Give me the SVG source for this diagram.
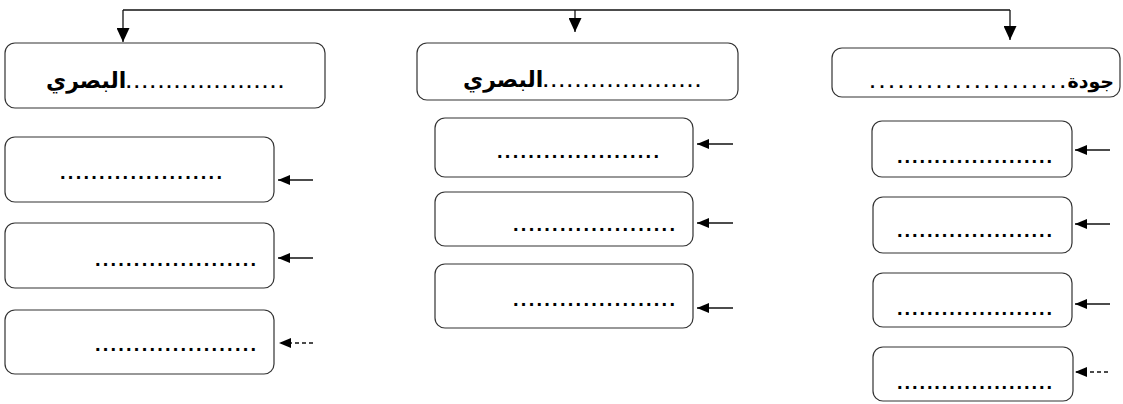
<svg xmlns="http://www.w3.org/2000/svg" width="1123" height="404" viewBox="0 0 1123 404">
<style>
.box{fill:none;stroke:#333;stroke-width:1.2}
.conn{fill:none;stroke:#111;stroke-width:1.3}
.dash{stroke-dasharray:4 3}
.dots{font-family:"Liberation Sans",Arial,sans-serif;font-weight:bold;font-size:20px;fill:#000}
.hd{font-family:"DejaVu Sans","Noto Sans",sans-serif;font-weight:bold;font-size:22px;fill:#000}
.hd2{font-family:"DejaVu Sans","Noto Sans",sans-serif;font-weight:bold;font-size:19px;fill:#000}
.hdots{font-family:"Liberation Sans",Arial,sans-serif;font-weight:bold;font-size:18px}
</style>
<defs>
<marker id="ah" viewBox="0 0 12 10" refX="12" refY="5" markerWidth="12" markerHeight="10" markerUnits="userSpaceOnUse" orient="auto">
<path d="M0,0 L12,5 L0,10 z" fill="#000"/>
</marker>
<marker id="ahd" viewBox="0 0 14 13" refX="14" refY="6.5" markerWidth="14" markerHeight="13" markerUnits="userSpaceOnUse" orient="auto">
<path d="M0,0 L14,6.5 L0,13 z" fill="#000"/>
</marker>
</defs>

<g id="connectors">
<polyline class="conn" points="123,10 1010,10"/>
<line class="conn" x1="123" y1="10" x2="123" y2="42" marker-end="url(#ahd)"/>
<line class="conn" x1="1010" y1="10" x2="1010" y2="40" marker-end="url(#ahd)"/>
<line class="conn" x1="575" y1="10" x2="575" y2="32" marker-end="url(#ahd)"/>
<line class="conn" x1="313" y1="180" x2="278" y2="180" marker-end="url(#ah)"/>
<line class="conn" x1="313" y1="258" x2="278" y2="258" marker-end="url(#ah)"/>
<line class="conn dash" x1="313" y1="343" x2="279" y2="343" marker-end="url(#ah)"/>
<line class="conn" x1="733" y1="144" x2="697" y2="144" marker-end="url(#ah)"/>
<line class="conn" x1="733" y1="223" x2="697" y2="223" marker-end="url(#ah)"/>
<line class="conn" x1="733" y1="308" x2="697" y2="308" marker-end="url(#ah)"/>
<line class="conn" x1="1110" y1="150" x2="1075" y2="150" marker-end="url(#ah)"/>
<line class="conn" x1="1110" y1="224" x2="1075" y2="224" marker-end="url(#ah)"/>
<line class="conn" x1="1110" y1="304" x2="1075" y2="304" marker-end="url(#ah)"/>
<line class="conn dash" x1="1108" y1="372" x2="1075" y2="372" marker-end="url(#ah)"/>
</g>

<g id="head-left">
<rect class="box" x="5" y="43" width="320" height="65" rx="10"/>
<text class="hd" x="46" y="88">البصري<tspan class="hdots" dx="0 3 3 3 3 3 3 3 3 3 3 3 3 3 3 3 3 3 3 3">....................</tspan></text>
</g>
<g id="head-mid">
<rect class="box" x="417" y="43" width="321" height="57" rx="10"/>
<text class="hd" x="463" y="87">البصري<tspan class="hdots" dx="0 3 3 3 3 3 3 3 3 3 3 3 3 3 3 3 3 3 3 3">....................</tspan></text>
</g>
<g id="head-right">
<rect class="box" x="832" y="48" width="288" height="49" rx="10"/>
<text class="hd2" x="870" y="88"><tspan class="hdots" dx="0 4.5 4.5 4.5 4.5 4.5 4.5 4.5 4.5 4.5 4.5 4.5 4.5 4.5 4.5 4.5 4.5 4.5 4.5 4.5 4.5">.....................</tspan><tspan x="1114" text-anchor="end"> جودة</tspan></text>
</g>

<g id="left-1">
<rect class="box" x="5" y="137" width="269" height="65" rx="10"/>
<text class="dots" x="60" y="179" textLength="162" lengthAdjust="spacing">.....................</text>
</g>
<g id="left-2">
<rect class="box" x="5" y="223" width="269" height="65" rx="10"/>
<text class="dots" x="95" y="266" textLength="161" lengthAdjust="spacing">.....................</text>
</g>
<g id="left-3">
<rect class="box" x="5" y="310" width="269" height="64" rx="10"/>
<text class="dots" x="95" y="351" textLength="161" lengthAdjust="spacing">.....................</text>
</g>

<g id="mid-1">
<rect class="box" x="435" y="118" width="258" height="59" rx="10"/>
<text class="dots" x="497" y="158" textLength="162" lengthAdjust="spacing">.....................</text>
</g>
<g id="mid-2">
<rect class="box" x="435" y="192" width="258" height="54" rx="10"/>
<text class="dots" x="513" y="231" textLength="162" lengthAdjust="spacing">.....................</text>
</g>
<g id="mid-3">
<rect class="box" x="435" y="264" width="258" height="64" rx="10"/>
<text class="dots" x="513" y="306" textLength="162" lengthAdjust="spacing">.....................</text>
</g>

<g id="right-1">
<rect class="box" x="872" y="121" width="200" height="56" rx="10"/>
<text class="dots" x="897" y="163" textLength="155" lengthAdjust="spacing">.....................</text>
</g>
<g id="right-2">
<rect class="box" x="873" y="197" width="199" height="56" rx="10"/>
<text class="dots" x="897" y="237" textLength="155" lengthAdjust="spacing">.....................</text>
</g>
<g id="right-3">
<rect class="box" x="873" y="273" width="199" height="54" rx="10"/>
<text class="dots" x="897" y="315" textLength="155" lengthAdjust="spacing">.....................</text>
</g>
<g id="right-4">
<rect class="box" x="873" y="347" width="200" height="54" rx="10"/>
<text class="dots" x="897" y="389" textLength="155" lengthAdjust="spacing">.....................</text>
</g>
</svg>
